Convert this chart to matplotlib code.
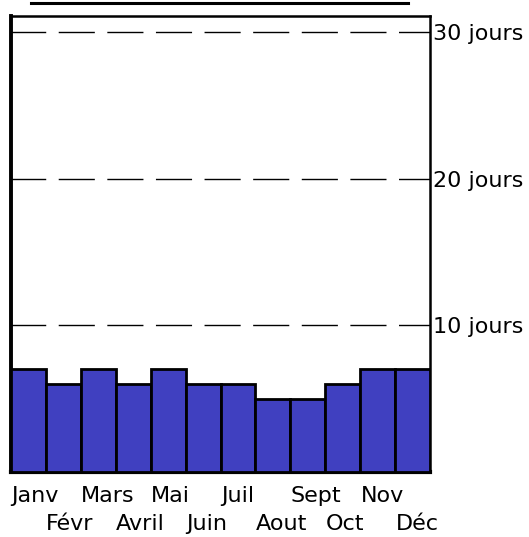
import matplotlib
matplotlib.use("Agg")
import matplotlib.pyplot as plt
from matplotlib.lines import Line2D

# ---------------------------------------------------------------------------
# Data: rainy days per month
# ---------------------------------------------------------------------------
months = ["Janv", "Févr", "Mars", "Avril", "Mai", "Juin",
          "Juil", "Aout", "Sept", "Oct", "Nov", "Déc"]
jours = [7, 6, 7, 6, 7, 6, 6, 5, 5, 6, 7, 7]
grid_vals = [10, 20, 30]
grid_labels = ["10 jours", "20 jours", "30 jours"]

BAR_COLOR = "#4040C0"
FS = 16

plt.rcParams["font.family"] = ["DejaVu Sans"]

fig = plt.figure(figsize=(5.29, 5.37), dpi=100)
ax = fig.add_axes([11 / 529, 1 - 472 / 537, (430 - 11) / 529, (472 - 16) / 537])

x = list(range(len(months)))
ax.bar(x, jours, width=1.0, color=BAR_COLOR, edgecolor="black",
       linewidth=2.0, zorder=3)

# dashed reference lines
for v in grid_vals:
    ax.axhline(v, color="black", lw=1.0, ls=(1, (26, 9)), zorder=1)

ax.set_xlim(-0.5, len(months) - 0.5)
ax.set_ylim(0, 31.1)

ax.set_xticks([])
ax.yaxis.tick_right()
ax.set_yticks(grid_vals)
ax.set_yticklabels(grid_labels, fontsize=FS)
ax.tick_params(axis="y", length=0, pad=2)

for side in ["left", "right", "top", "bottom"]:
    ax.spines[side].set_color("black")
ax.spines["left"].set_linewidth(2.8)
ax.spines["bottom"].set_linewidth(3.0)
ax.spines["right"].set_linewidth(1.8)
ax.spines["top"].set_linewidth(1.8)

# staggered month labels, left-aligned on each bar (baseline placed)
xt = ax.get_xaxis_transform()
for i, m in enumerate(months):
    y = -0.066 if i % 2 == 0 else -0.127
    ax.text(i - 0.49, y, m, transform=xt, ha="left", va="baseline", fontsize=FS)

# underline of the (cropped) title above the chart
fig.add_artist(Line2D([31 / 529, 408 / 529], [1 - 3 / 537, 1 - 3 / 537],
                      color="black", lw=2.2, transform=fig.transFigure))

fig.savefig("out.png", dpi=100)
